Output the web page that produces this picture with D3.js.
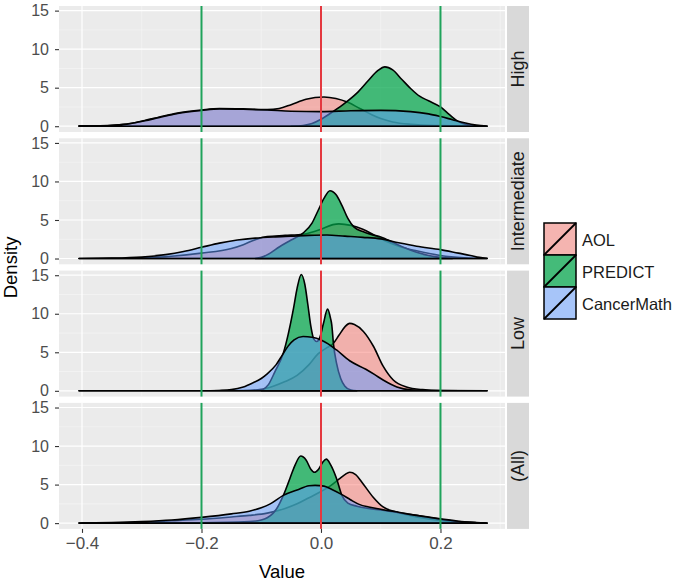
<!DOCTYPE html>
<html><head><meta charset="utf-8">
<script src="https://cdn.jsdelivr.net/npm/d3@7"></script>
<style>body{margin:0;background:#fff}svg{display:block}text{font-family:"Liberation Sans",Arial,Helvetica,sans-serif}</style>
</head><body>
<script>
const panels = ["High","Intermediate","Low","(All)"];
const seriesNames = ["AOL","PREDICT","CancerMath"];
const xTicks = [-0.4,-0.2,0.0,0.2];
const xTickLabels = ["\u22120.4","\u22120.2","0.0","0.2"];
const yTicks = [0,5,10,15];
const vlinesGreen = [-0.2,0.2];
const vlinesRed = [0];

// [value, density] pairs
const highAOL = [[-0.405,0.05],[-0.37,0.07],[-0.345,0.15],[-0.32,0.35],[-0.295,0.75],[-0.27,1.2],[-0.24,1.7],[-0.2,2.1],[-0.17,2.3],[-0.13,2.25],[-0.09,2.15],[-0.07,2.3],[-0.05,2.8],[-0.025,3.5],[0.005,3.8],[0.025,3.6],[0.045,3.1],[0.065,2.3],[0.085,1.5],[0.1,1.0],[0.12,0.55],[0.15,0.25],[0.2,0.08],[0.25,0.02],[0.278,0]];
const highPRED = [[-0.05,0],[-0.03,0.1],[-0.015,0.35],[0,0.9],[0.02,1.9],[0.04,3.0],[0.06,4.3],[0.08,6.0],[0.095,7.2],[0.107,7.7],[0.12,7.3],[0.135,6.1],[0.15,4.9],[0.165,3.9],[0.18,3.3],[0.2,2.5],[0.215,1.5],[0.23,0.6],[0.245,0.2],[0.26,0.05],[0.275,0]];
const highCM = [[-0.405,0.03],[-0.37,0.05],[-0.345,0.13],[-0.32,0.32],[-0.295,0.7],[-0.27,1.15],[-0.24,1.65],[-0.2,2.05],[-0.17,2.25],[-0.13,2.2],[-0.09,2.1],[-0.05,1.95],[0,1.9],[0.05,2.0],[0.1,2.05],[0.15,1.9],[0.18,1.6],[0.2,1.25],[0.22,0.85],[0.24,0.45],[0.26,0.15],[0.278,0.02]];

const interAOL = [[-0.405,0],[-0.35,0.03],[-0.3,0.1],[-0.25,0.3],[-0.2,0.7],[-0.15,1.3],[-0.13,1.8],[-0.11,2.45],[-0.09,2.85],[-0.06,3.0],[-0.03,3.15],[0,3.8],[0.02,4.4],[0.03,4.5],[0.05,4.3],[0.07,3.8],[0.09,3.0],[0.11,2.2],[0.13,1.6],[0.16,1.0],[0.2,0.4],[0.24,0.1],[0.278,0]];
const interPRED = [[-0.11,0],[-0.1,0.15],[-0.085,0.7],[-0.07,1.5],[-0.05,2.4],[-0.03,3.3],[-0.015,4.6],[-0.005,6.2],[0.005,7.8],[0.015,8.8],[0.025,8.3],[0.035,6.9],[0.045,5.2],[0.055,4.1],[0.07,3.5],[0.085,3.1],[0.1,2.8],[0.12,2.1],[0.14,1.4],[0.16,0.8],[0.18,0.4],[0.2,0.15],[0.22,0]];
const interCM = [[-0.405,0],[-0.35,0.05],[-0.3,0.2],[-0.26,0.5],[-0.23,0.9],[-0.2,1.45],[-0.17,2.0],[-0.14,2.4],[-0.11,2.65],[-0.08,2.8],[-0.05,2.9],[-0.02,3.0],[0.01,3.05],[0.04,2.9],[0.07,2.75],[0.1,2.55],[0.13,2.05],[0.16,1.6],[0.2,1.15],[0.23,0.7],[0.25,0.4],[0.265,0.15],[0.278,0.02]];

const lowAOL = [[-0.405,0],[-0.2,0],[-0.13,0.05],[-0.1,0.2],[-0.08,0.6],[-0.06,1.2],[-0.04,2.0],[-0.02,3.4],[-0.005,4.8],[0.01,5.6],[0.02,6.1],[0.03,7.2],[0.04,8.3],[0.048,8.75],[0.056,8.6],[0.071,7.7],[0.088,5.75],[0.104,3.2],[0.121,1.4],[0.143,0.5],[0.17,0.15],[0.2,0.03],[0.278,0]];
const lowPRED = [[-0.1,0],[-0.088,0.8],[-0.077,2.5],[-0.063,4.9],[-0.055,7.3],[-0.046,10.7],[-0.04,13.3],[-0.033,15.1],[-0.027,13.8],[-0.022,11.2],[-0.017,8.4],[-0.012,6.7],[-0.007,6.4],[-0.002,6.9],[0.004,8.7],[0.011,10.6],[0.016,9.4],[0.018,8.6],[0.021,6.0],[0.026,3.6],[0.033,1.6],[0.04,0.6],[0.05,0.1],[0.06,0]];
const lowCM = [[-0.405,0],[-0.2,0],[-0.17,0.05],[-0.15,0.15],[-0.13,0.5],[-0.115,1.0],[-0.1,1.6],[-0.09,2.2],[-0.075,3.4],[-0.065,4.6],[-0.055,5.8],[-0.045,6.6],[-0.03,7.05],[-0.015,6.95],[0,6.6],[0.012,6.1],[0.026,5.3],[0.048,3.9],[0.075,2.8],[0.09,2.1],[0.104,1.4],[0.127,0.5],[0.15,0.12],[0.18,0.02],[0.278,0]];

const allAOL = [[-0.405,0.02],[-0.35,0.05],[-0.3,0.12],[-0.25,0.3],[-0.2,0.5],[-0.15,0.8],[-0.12,1.0],[-0.09,1.3],[-0.06,1.9],[-0.04,2.5],[-0.02,3.3],[0,4.1],[0.015,4.8],[0.03,5.7],[0.04,6.3],[0.048,6.6],[0.058,6.3],[0.07,5.15],[0.087,3.4],[0.104,2.1],[0.126,1.45],[0.148,1.0],[0.18,0.55],[0.21,0.25],[0.25,0.06],[0.278,0]];
const allPRED = [[-0.4,0],[-0.2,0.05],[-0.12,0.2],[-0.1,0.4],[-0.09,0.7],[-0.08,1.3],[-0.074,1.9],[-0.063,3.6],[-0.052,5.8],[-0.043,7.6],[-0.034,8.7],[-0.025,8.2],[-0.017,7.0],[-0.011,6.6],[-0.004,7.0],[0.003,7.9],[0.009,8.3],[0.016,7.6],[0.026,5.8],[0.035,3.6],[0.045,2.6],[0.06,2.2],[0.08,1.9],[0.1,1.7],[0.13,1.35],[0.16,1.0],[0.2,0.5],[0.23,0.2],[0.26,0.05],[0.275,0]];
const allCM = [[-0.405,0.02],[-0.35,0.08],[-0.3,0.2],[-0.25,0.4],[-0.2,0.75],[-0.15,1.2],[-0.12,1.55],[-0.1,2.0],[-0.085,2.5],[-0.063,3.6],[-0.04,4.3],[-0.02,4.85],[-0.01,4.9],[0.005,4.8],[0.02,4.3],[0.035,3.7],[0.05,3.0],[0.065,2.4],[0.08,2.1],[0.1,1.8],[0.13,1.4],[0.16,1.0],[0.2,0.55],[0.23,0.25],[0.26,0.06],[0.278,0]];

const panelData = [
  [highAOL, highPRED, highCM],
  [interAOL, interPRED, interCM],
  [lowAOL, lowPRED, lowCM],
  [allAOL, allPRED, allCM]
];

const fills = ["#F8766D","#00A54A","#619CFF"];
const fillOpacity = [0.5,0.72,0.52];

const W = 673, H = 583;
const pL = 59, pR = 505, pTop = 6, pH = 126, gap = 6.3;
const svg = d3.select("body").append("svg").attr("width", W).attr("height", H);

const x = d3.scaleLinear().domain([-0.4385, 0.308]).range([pL, pR]);

panels.forEach((name, i) => {
  const top = pTop + i * (pH + gap);
  const y = d3.scaleLinear().domain([-0.75, 15.6]).range([top + pH, top]);
  const g = svg.append("g");
  g.append("rect").attr("x", pL).attr("y", top).attr("width", pR - pL).attr("height", pH).attr("fill", "#EBEBEB");
  // minor grid
  [2.5, 7.5, 12.5].forEach(v => g.append("line").attr("x1", pL).attr("x2", pR).attr("y1", y(v)).attr("y2", y(v)).attr("stroke", "#F7F7F7").attr("stroke-width", 0.6));
  [-0.3, -0.1, 0.1, 0.3].forEach(v => g.append("line").attr("x1", x(v)).attr("x2", x(v)).attr("y1", top).attr("y2", top + pH).attr("stroke", "#F7F7F7").attr("stroke-width", 0.6));
  // major grid
  yTicks.forEach(v => g.append("line").attr("x1", pL).attr("x2", pR).attr("y1", y(v)).attr("y2", y(v)).attr("stroke", "#fff").attr("stroke-width", 1.2));
  xTicks.forEach(v => g.append("line").attr("x1", x(v)).attr("x2", x(v)).attr("y1", top).attr("y2", top + pH).attr("stroke", "#fff").attr("stroke-width", 1.2));

  const area = d3.area().x(d => x(d[0])).y0(y(0)).y1(d => y(d[1])).curve(d3.curveMonotoneX);
  panelData[i].forEach((pts, s) => {
    g.append("path").datum(pts).attr("d", d => area(d) ).attr("fill", fills[s]).attr("fill-opacity", fillOpacity[s])
      .attr("stroke", "#000").attr("stroke-width", 1.6).attr("stroke-linejoin", "round");
  });
  vlinesGreen.forEach(v => g.append("line").attr("x1", x(v)).attr("x2", x(v)).attr("y1", top).attr("y2", top + pH).attr("stroke", "#1FA35B").attr("stroke-width", 2));
  vlinesRed.forEach(v => g.append("line").attr("x1", x(v)).attr("x2", x(v)).attr("y1", top).attr("y2", top + pH).attr("stroke", "#E4383F").attr("stroke-width", 2));

  // y axis
  const ax = svg.append("g").attr("transform", `translate(${pL},0)`)
    .call(d3.axisLeft(y).tickValues(yTicks).tickSize(4).tickPadding(6));
  ax.select(".domain").remove();
  ax.selectAll(".tick line").attr("stroke", "#333").attr("stroke-width", 1.1);
  ax.selectAll(".tick text").attr("fill", "#4D4D4D").style("font-size", "16px");

  // strip
  svg.append("rect").attr("x", 507).attr("y", top).attr("width", 22).attr("height", pH).attr("fill", "#D9D9D9");
  svg.append("text").attr("transform", `translate(${518},${top + pH / 2}) rotate(-90)`)
    .attr("text-anchor", "middle").attr("dy", "0.36em").attr("fill", "#1A1A1A").style("font-size", "18px").text(name);
});

const bottom = pTop + 3 * (pH + gap) + pH;
const xa = svg.append("g").attr("transform", `translate(0,${bottom})`)
  .call(d3.axisBottom(x).tickValues(xTicks).tickFormat((d, i) => xTickLabels[i]).tickSize(4).tickPadding(4));
xa.select(".domain").remove();
xa.selectAll(".tick line").attr("stroke", "#333").attr("stroke-width", 1.1);
xa.selectAll(".tick text").attr("fill", "#4D4D4D").style("font-size", "17px");

svg.append("text").attr("x", (pL + pR) / 2).attr("y", 578).attr("text-anchor", "middle").attr("fill", "#000").style("font-size", "18.5px").text("Value");
svg.append("text").attr("transform", `translate(${17},${(pTop + bottom) / 2}) rotate(-90)`).attr("text-anchor", "middle").attr("fill", "#000").style("font-size", "18.5px").text("Density");

// legend
const lg = svg.append("g").attr("transform", "translate(544,223)");
seriesNames.forEach((n, i) => {
  const ky = i * 32;
  lg.append("rect").attr("x", 0).attr("y", ky).attr("width", 32).attr("height", 32).attr("fill", "#F2F2F2");
  lg.append("rect").attr("x", 0).attr("y", ky).attr("width", 32).attr("height", 32).attr("fill", fills[i]).attr("fill-opacity", fillOpacity[i]).attr("stroke", "#000").attr("stroke-width", 1.5);
  lg.append("line").attr("x1", 0).attr("y1", ky + 32).attr("x2", 32).attr("y2", ky).attr("stroke", "#000").attr("stroke-width", 1.8);
  lg.append("text").attr("x", 38).attr("y", ky + 17).attr("dy", "0.36em").attr("fill", "#1A1A1A").style("font-size", "16.5px").text(n);
});
</script>
</body></html>
